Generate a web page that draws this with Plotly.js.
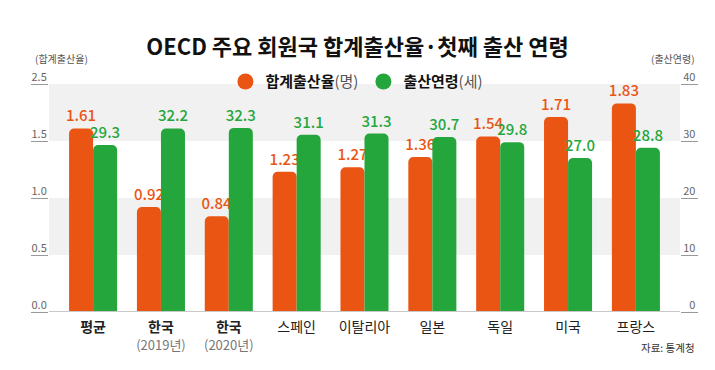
<!DOCTYPE html>
<html><head><meta charset="utf-8">
<script src="https://cdn.plot.ly/plotly-3.0.1.min.js"></script>
<style>html,body{margin:0;padding:0;background:#fff}#chart{width:715px;height:370px}</style>
</head><body><div id="chart"></div>
<script>
const categories = ['<b>평균</b>', '<b>한국</b><br><span style="font-size:13px;color:#777;font-weight:normal">(2019년)</span>', '<b>한국</b><br><span style="font-size:13px;color:#777">(2020년)</span>', '스페인', '이탈리아', '일본', '독일', '미국', '프랑스'];
const fertilityRate = [1.61, 0.92, 0.84, 1.23, 1.27, 1.36, 1.54, 1.71, 1.83];
const firstBirthAge = [29.3, 32.2, 32.3, 31.1, 31.3, 30.7, 29.8, 27.0, 28.8];
const leftTickVals = [0, 0.5, 1.0, 1.5, 2.0];
const leftTickText = ['0.0', '0.5', '1.0', '1.5', '2.5'];
const rightTickVals = [0, 10, 20, 30, 40];
const rightTickText = ['\u20070', '10', '20', '30', '40'];

const ORANGE = '#EA5514', GREEN = '#25A63C';
const FONT = '"Noto Sans CJK KR", "Noto Sans", sans-serif';
const BW = 0.354;

const traces = [
  {type:'bar', x:categories, y:fertilityRate, yaxis:'y', width:BW, offset:-BW,
   marker:{color:ORANGE}, text:fertilityRate.map(v=>v.toFixed(2)), textposition:'outside', constraintext:'none',
   textfont:{color:ORANGE, size:15, family:FONT, weight:500}, cliponaxis:false, showlegend:false, hoverinfo:'skip'},
  {type:'bar', x:categories, y:firstBirthAge, yaxis:'y2', width:BW, offset:0,
   marker:{color:GREEN}, text:firstBirthAge.map(v=>v.toFixed(1)), textposition:'outside', constraintext:'none',
   textfont:{color:GREEN, size:15, family:FONT, weight:500}, cliponaxis:false, showlegend:false, hoverinfo:'skip'},
  {type:'scatter', mode:'markers', x:[null], y:[null], name:'<b>합계출산율</b><span style="color:#555">(명)</span>',
   marker:{color:ORANGE, size:17, symbol:'circle'}},
  {type:'scatter', mode:'markers', x:[null], y:[null], name:'<b>출산연령</b><span style="color:#555">(세)</span>',
   marker:{color:GREEN, size:17, symbol:'circle'}}
];

const layout = {
  width:715, height:370,
  margin:{l:49, r:35, t:84, b:58},
  paper_bgcolor:'#fff', plot_bgcolor:'rgba(0,0,0,0)',
  font:{family:FONT, color:'#222'},
  title:{text:'<b>OECD 주요 회원국 합계출산율·첫째 출산 연령</b>', x:0.5, xanchor:'center', y:0.873, yanchor:'middle',
         font:{size:22, color:'#111', family:FONT}},
  barmode:'overlay',
  barcornerradius:5,
  xaxis:{type:'category', range:[-0.65, 8.65], showgrid:false, zeroline:false, showline:false, ticks:'',
         ticklabelstandoff:5, tickfont:{size:14, color:'#222', family:FONT}, fixedrange:true},
  yaxis:{range:[0,2.0], tickvals:leftTickVals, ticktext:leftTickText, showgrid:false, zeroline:false, showline:false,
         ticks:'outside', ticklen:17, tickcolor:'#999', tickwidth:1, ticklabelstandoff:-18, ticklabelshift:-7,
         tickfont:{size:11, color:'#666', family:FONT}},
  yaxis2:{range:[0,40], overlaying:'y', side:'right', tickvals:rightTickVals, ticktext:rightTickText, showgrid:false, zeroline:false, showline:false,
         ticks:'outside', ticklen:17, tickcolor:'#999', tickwidth:1, ticklabelstandoff:-17, ticklabelshift:-7,
         tickfont:{size:11, color:'#666', family:FONT}},
  legend:{orientation:'h', x:0.488, xanchor:'center', y:1.01, yanchor:'middle', bgcolor:'rgba(0,0,0,0)',
          font:{size:15, color:'#111', family:FONT}, itemsizing:'trace', tracegroupgap:0},
  shapes:[
    {type:'rect', xref:'paper', yref:'y', x0:0, x1:1, y0:1.5, y1:2.0, fillcolor:'#F1F1F1', line:{width:0}, layer:'below'},
    {type:'rect', xref:'paper', yref:'y', x0:0, x1:1, y0:0.5, y1:1.0, fillcolor:'#F1F1F1', line:{width:0}, layer:'below'},
    {type:'line', xref:'paper', yref:'y', x0:0, x1:1, y0:0, y1:0, line:{color:'#C8C8C8', width:2}, layer:'above'}
  ],
  annotations:[
    {xref:'paper', yref:'paper', x:-0.026, y:1.11, xanchor:'left', yanchor:'middle', text:'(합계출산율)', showarrow:false,
     font:{size:10, color:'#555', family:FONT}},
    {xref:'paper', yref:'paper', x:1.027, y:1.11, xanchor:'right', yanchor:'middle', text:'(출산연령)', showarrow:false,
     font:{size:10, color:'#555', family:FONT}},
    {xref:'paper', yref:'paper', x:1.027, y:-0.154, xanchor:'right', yanchor:'middle', text:'자료: 통계청', showarrow:false,
     font:{size:10.5, color:'#333', family:FONT}}
  ]
};

Plotly.newPlot('chart', traces, layout, {displayModeBar:false, staticPlot:true});
</script>
</body></html>
